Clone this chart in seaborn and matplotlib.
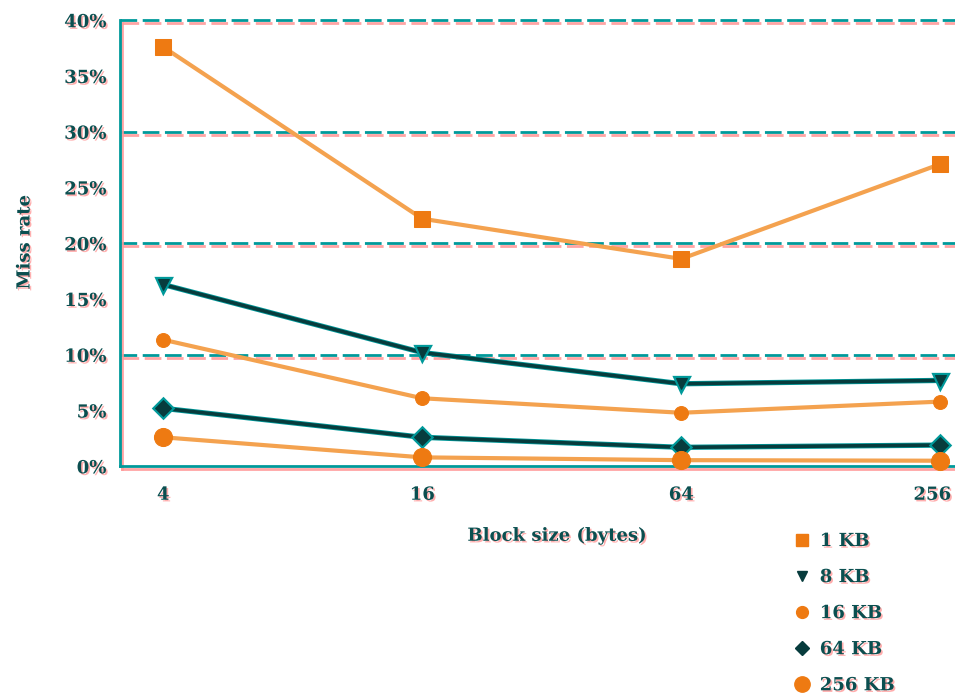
import matplotlib
matplotlib.use("Agg")
import matplotlib.pyplot as plt
import matplotlib.patheffects as pe
import matplotlib.transforms as mtransforms
from matplotlib.lines import Line2D
import numpy as np
import pandas as pd
import seaborn as sns

# Miss rate (%) by block size for several cache sizes
block_sizes = [4, 16, 64, 256]
cache_labels = ["1 KB", "8 KB", "16 KB", "64 KB", "256 KB"]
miss_1kb = [37.6, 22.2, 18.6, 27.1]
miss_8kb = [16.3, 10.2, 7.4, 7.7]
miss_16kb = [11.35, 6.1, 4.8, 5.8]
miss_64kb = [5.2, 2.6, 1.7, 1.9]
miss_256kb = [2.6, 0.8, 0.55, 0.5]
y_ticks = [0, 5, 10, 15, 20, 25, 30, 35, 40]
grid_levels = [10, 20, 30, 40]

series = [miss_1kb, miss_8kb, miss_16kb, miss_64kb, miss_256kb]
df = pd.DataFrame({
    "block": np.tile(block_sizes, len(cache_labels)),
    "miss": np.concatenate(series),
    "cache": np.repeat(cache_labels, len(block_sizes)),
})

TEAL = "#00999a"
INK = "#0b4f50"
PINK = "#ff9a9a"
ORANGE = "#ee7a12"
ORANGE_LINE = "#f4a24f"
DARK = "#073c3d"

styles = {
    "1 KB": dict(line=ORANGE_LINE, mk=ORANGE, marker="s", ms=11),
    "8 KB": dict(line=DARK, mk=DARK, marker="v", ms=8),
    "16 KB": dict(line=ORANGE_LINE, mk=ORANGE, marker="o", ms=10),
    "64 KB": dict(line=DARK, mk=DARK, marker="D", ms=8),
    "256 KB": dict(line=ORANGE_LINE, mk=ORANGE, marker="o", ms=13),
}

sns.set_theme(style="white")
plt.rcParams["font.family"] = ["DejaVu Serif"]
plt.rcParams["font.weight"] = "bold"

fig = plt.figure(figsize=(9.55, 6.97), dpi=100)
ax = fig.add_axes([0.126, 0.331, 0.874, 0.640])

text_fx = [pe.SimplePatchShadow(offset=(1.2, -1.2), shadow_rgbFace=PINK, alpha=0.8), pe.Normal()]
line_fx = [pe.SimpleLineShadow(offset=(1.5, -2), shadow_color=PINK, alpha=0.9), pe.Normal()]
dark_fx = [pe.Stroke(linewidth=3.8, foreground=TEAL), pe.Normal()]

for y in grid_levels:
    ax.axhline(y, color=TEAL, lw=2, ls=(0, (6, 2)), zorder=1, clip_on=False,
               path_effects=line_fx)

for lab in cache_labels:
    st = styles[lab]
    sub = df[df["cache"] == lab]
    is_dark = st["line"] == DARK
    sns.lineplot(data=sub, x="block", y="miss", ax=ax, color=st["line"],
                 lw=2.6 if is_dark else 3,
                 marker=st["marker"], markersize=st["ms"], markerfacecolor=st["mk"],
                 markeredgecolor=st["mk"], legend=False, zorder=3, clip_on=False)
    if is_dark:
        ax.lines[-1].set_path_effects(dark_fx)

ax.set_xscale("log", base=2)
ax.set_xlim(3.18, 277)
ax.set_ylim(0, 40)
ax.set_xticks(block_sizes)
ax.set_xticklabels([str(b) for b in block_sizes])
ax.set_yticks(y_ticks)
ax.set_yticklabels([f"{t}%" for t in y_ticks])
ax.minorticks_off()

for side in ["top", "right"]:
    ax.spines[side].set_visible(False)
for side in ["left", "bottom"]:
    ax.spines[side].set_color(TEAL)
    ax.spines[side].set_linewidth(2)
    ax.spines[side].set_path_effects(line_fx)

ax.tick_params(axis="y", direction="in", length=12, width=2, color=TEAL,
               labelsize=13, labelcolor=INK, pad=10)
ax.tick_params(axis="x", direction="in", length=10, width=2, color=TEAL,
               labelsize=13, labelcolor=INK, pad=14)
for t in ax.get_xticklabels() + ax.get_yticklabels():
    t.set_path_effects(text_fx)

# keep the rightmost block-size label inside the figure
last = ax.get_xticklabels()[-1]
last.set_transform(last.get_transform() +
                   mtransforms.ScaledTranslation(-8 / 100, 0, fig.dpi_scale_trans))

ax.set_xlabel("Block size (bytes)", fontsize=13, fontweight="bold", color=INK,
              path_effects=text_fx)
ax.set_ylabel("Miss rate", fontsize=13, fontweight="bold", color=INK,
              path_effects=text_fx)
ax.xaxis.set_label_coords(0.523, -0.135)
ax.yaxis.set_label_coords(-0.104, 0.502)

handles = [Line2D([], [], ls="none", marker=styles[l]["marker"],
                  markersize=styles[l]["ms"] * 0.85, markerfacecolor=styles[l]["mk"],
                  markeredgecolor=styles[l]["mk"]) for l in cache_labels]
leg = fig.legend(handles, cache_labels, loc="upper left", bbox_to_anchor=(0.813, 0.26),
                 frameon=False, fontsize=13, handlelength=1.0, handletextpad=0.5,
                 labelspacing=1.0)
for t in leg.get_texts():
    t.set_color(INK)
    t.set_path_effects(text_fx)

fig.savefig("out.png", dpi=100)
